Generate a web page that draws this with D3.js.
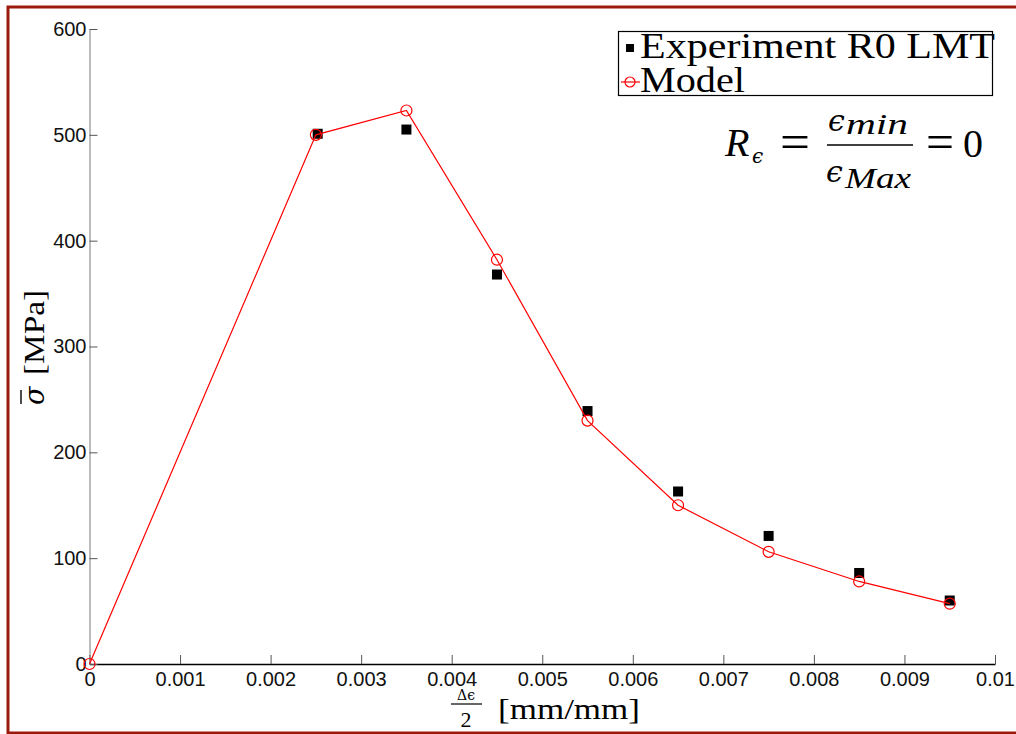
<!DOCTYPE html>
<html>
<head>
<meta charset="utf-8">
<script src="https://cdn.jsdelivr.net/npm/d3@7"></script>
<style>
html,body{margin:0;padding:0;background:#fff;}
svg{display:block;}
</style>
</head>
<body>
<svg id="chart" width="1016" height="734"></svg>
<script>
const xTicks = [0, 0.001, 0.002, 0.003, 0.004, 0.005, 0.006, 0.007, 0.008, 0.009, 0.01];
const xTickLabels = ["0","0.001","0.002","0.003","0.004","0.005","0.006","0.007","0.008","0.009","0.01"];
const yTicks = [0, 100, 200, 300, 400, 500, 600];
const yTickLabels = ["0","100","200","300","400","500","600"];

const expStrain = [0.00252, 0.0035, 0.0045, 0.0055, 0.0065, 0.0075, 0.0085, 0.0095];
const expStress = [501, 505, 368, 239, 163, 121, 86, 60];

const modelStrain = [0, 0.0025, 0.0035, 0.0045, 0.0055, 0.0065, 0.0075, 0.0085, 0.0095];
const modelStress = [0, 500, 523, 382, 230, 150, 106, 78, 57];

const legendLabels = ["Experiment R0 LMT", "Model"];

const svg = d3.select("#chart");

// outer frame (dark red)
svg.append("rect").attr("x", 8).attr("y", 7).attr("width", 1020).attr("height", 726)
  .attr("fill", "none").attr("stroke", "#9b1a0c").attr("stroke-width", 3);

const x = d3.scaleLinear().domain([0, 0.01]).range([89.5, 995]);
const y = d3.scaleLinear().domain([0, 600]).range([664, 29]);

const sans = "'Liberation Sans', Arial, Helvetica, sans-serif";
const serif2 = "'Liberation Serif', 'Times New Roman', serif";
const greek = "'DejaVu Serif', serif";

// axes
const xAxis = d3.axisBottom(x).tickValues(xTicks)
  .tickFormat((d, i) => xTickLabels[i]).tickSizeInner(-9).tickSizeOuter(0).tickPadding(8);
const gx = svg.append("g").attr("transform", `translate(0,${y(0)})`).call(xAxis);
gx.select(".domain").attr("stroke", "#000").attr("stroke-width", 1.5);
gx.selectAll(".tick line").attr("stroke", "#555");
gx.selectAll(".tick text").attr("font-family", sans).attr("font-size", 20).attr("fill", "#111").attr("dy", "0.71em");

const yAxis = d3.axisLeft(y).tickValues(yTicks)
  .tickFormat((d, i) => yTickLabels[i]).tickSizeInner(-8).tickSizeOuter(0).tickPadding(3);
const gy = svg.append("g").attr("transform", `translate(${x(0)},0)`).call(yAxis);
gy.select(".domain").attr("stroke", "#777").attr("stroke-width", 1);
gy.selectAll(".tick line").attr("stroke", "#555");
gy.selectAll(".tick text").attr("font-family", sans).attr("font-size", 20).attr("fill", "#111");

// experiment squares
const expData = expStrain.map((s, i) => ({s, v: expStress[i]}));
svg.append("g").selectAll("rect").data(expData).join("rect")
  .attr("x", d => x(d.s) - 5).attr("y", d => y(d.v) - 5)
  .attr("width", 10).attr("height", 10).attr("fill", "#000");

// model line + circles
const modelData = modelStrain.map((s, i) => ({s, v: modelStress[i]}));
svg.append("path").datum(modelData)
  .attr("d", d3.line().x(d => x(d.s)).y(d => y(d.v)))
  .attr("fill", "none").attr("stroke", "#ff0000").attr("stroke-width", 1.2);
svg.append("g").selectAll("circle").data(modelData).join("circle")
  .attr("cx", d => x(d.s)).attr("cy", d => y(d.v)).attr("r", 5.5)
  .attr("fill", "none").attr("stroke", "#ff0000").attr("stroke-width", 1.2);

// legend
const lg = svg.append("g");
lg.append("rect").attr("x", 618.5).attr("y", 31.5).attr("width", 374).attr("height", 64)
  .attr("fill", "#fff").attr("stroke", "#000").attr("stroke-width", 1.2);
lg.append("rect").attr("x", 626).attr("y", 44).attr("width", 8).attr("height", 8).attr("fill", "#000");
lg.append("line").attr("x1", 621).attr("x2", 640).attr("y1", 82).attr("y2", 82).attr("stroke", "#ff0000").attr("stroke-width", 1.2);
lg.append("circle").attr("cx", 630).attr("cy", 82).attr("r", 5).attr("fill", "none").attr("stroke", "#ff0000").attr("stroke-width", 1.2);
lg.append("text").attr("x", 640).attr("y", 58).attr("font-family", serif2).attr("font-size", 36)
  .attr("textLength", 355).attr("lengthAdjust", "spacingAndGlyphs").text(legendLabels[0]);
lg.append("text").attr("x", 640).attr("y", 92).attr("font-family", serif2).attr("font-size", 36)
  .attr("textLength", 105).attr("lengthAdjust", "spacingAndGlyphs").text(legendLabels[1]);

// formula R_eps = eps_min / eps_Max = 0
const f = svg.append("g").attr("fill", "#000");
f.append("text").attr("x", 725).attr("y", 156).attr("font-family", serif2).attr("font-size", 40).attr("font-style", "italic").text("R");
f.append("text").attr("x", 752).attr("y", 163).attr("font-family", greek).attr("font-size", 20).attr("font-style", "italic").text("ϵ");
f.append("text").attr("x", 780).attr("y", 158).attr("font-family", serif2).attr("font-size", 48)
  .attr("textLength", 30).attr("lengthAdjust", "spacingAndGlyphs").text("=");
f.append("line").attr("x1", 827).attr("x2", 913).attr("y1", 145).attr("y2", 145).attr("stroke", "#000").attr("stroke-width", 1.6);
f.append("text").attr("x", 828).attr("y", 131).attr("font-family", greek).attr("font-size", 30).attr("font-style", "italic").text("ϵ");
f.append("text").attr("x", 846).attr("y", 134).attr("font-family", serif2).attr("font-size", 30).attr("font-style", "italic")
  .attr("textLength", 62).attr("lengthAdjust", "spacingAndGlyphs").text("min");
f.append("text").attr("x", 826).attr("y", 182).attr("font-family", greek).attr("font-size", 30).attr("font-style", "italic").text("ϵ");
f.append("text").attr("x", 845).attr("y", 188).attr("font-family", serif2).attr("font-size", 30).attr("font-style", "italic")
  .attr("textLength", 66).attr("lengthAdjust", "spacingAndGlyphs").text("Max");
f.append("text").attr("x", 926).attr("y", 158).attr("font-family", serif2).attr("font-size", 48)
  .attr("textLength", 28).attr("lengthAdjust", "spacingAndGlyphs").text("=");
f.append("text").attr("x", 963).attr("y", 157).attr("font-family", serif2).attr("font-size", 40).text("0");

// y label (rotated)
const yg = svg.append("g").attr("transform", "translate(44,347) rotate(-90)");
yg.append("text").attr("x", -58).attr("y", 0).attr("font-family", greek).attr("font-size", 27).attr("font-style", "italic").text("σ");
yg.append("line").attr("x1", -57).attr("x2", -43).attr("y1", -23).attr("y2", -23).attr("stroke", "#000").attr("stroke-width", 1.4);
yg.append("text").attr("x", -28).attr("y", 0).attr("font-family", serif2).attr("font-size", 30)
  .attr("textLength", 85).attr("lengthAdjust", "spacingAndGlyphs").text("[MPa]");

// x label
const xl = svg.append("g").attr("fill", "#000");
xl.append("text").attr("x", 466).attr("y", 700).attr("text-anchor", "middle").attr("font-family", greek).attr("font-size", 14).text("Δϵ");
xl.append("line").attr("x1", 451).attr("x2", 482).attr("y1", 704).attr("y2", 704).attr("stroke", "#000").attr("stroke-width", 1.2);
xl.append("text").attr("x", 466).attr("y", 727).attr("text-anchor", "middle").attr("font-family", serif2).attr("font-size", 22).text("2");
xl.append("text").attr("x", 498).attr("y", 719).attr("font-family", serif2).attr("font-size", 30)
  .attr("textLength", 142).attr("lengthAdjust", "spacingAndGlyphs").text("[mm/mm]");
</script>
</body>
</html>
